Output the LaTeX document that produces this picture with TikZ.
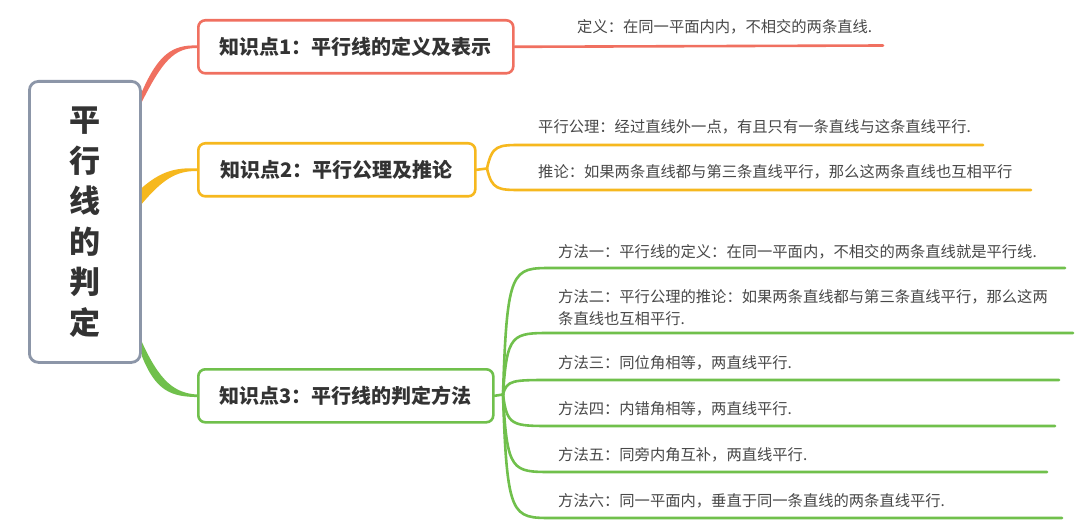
\documentclass[tikz,border=0pt]{standalone}
\usepackage{fontspec}
\setmainfont{Noto Sans CJK SC}
\usetikzlibrary{calc}
\definecolor{cred}{RGB}{240,112,96}
\definecolor{corange}{RGB}{246,184,30}
\definecolor{cgreen}{RGB}{112,192,76}
\definecolor{cgray}{RGB}{140,150,168}
\definecolor{ctext}{RGB}{51,51,51}
\definecolor{cdet}{RGB}{72,72,72}
\begin{document}
\begin{tikzpicture}[x=1pt,y=-1pt,
  kbox/.style={draw, line width=2.6pt, rounded corners=7pt, fill=white, text=ctext,
    font=\fontsize{20}{23}\selectfont\bfseries, inner sep=0pt, anchor=north west, minimum height=53pt},
  det/.style={anchor=west, text=cdet, font=\fontsize{15.3}{21.5}\selectfont, inner sep=0pt, align=left},
  br/.style={line width=2.6pt, line cap=round}
]
\useasboundingbox[fill=white] (0,0) rectangle (1080,532);

% root
\node[draw=cgray, line width=2.8pt, rounded corners=9pt, fill=white, anchor=north west,
  minimum width=111pt, minimum height=281pt, inner sep=0pt, text=ctext, align=center,
  font=\fontsize{31}{40.5}\selectfont\bfseries] (root) at (28,80) {平\\行\\线\\的\\判\\定};

% level-1 boxes
\node[kbox, draw=cred, minimum width=315pt] (b1) at (197,19) {知识点1：平行线的定义及表示};
\node[kbox, draw=corange, minimum width=277pt] (b2) at (197,142) {知识点2：平行公理及推论};
\node[kbox, draw=cgreen, minimum width=295pt] (b3) at (197,368) {知识点3：平行线的判定方法};

% root connectors (tapered)
\fill[cred] ($(root.north east)+(0,12)$) .. controls (158,55) and (172,44.5) .. ($(b1.west)+(0,-1.3)$)
  -- ($(b1.west)+(0,1.3)$) .. controls (174,47.5) and (162,62) .. ($(root.north east)+(0,22)$) -- cycle;
\fill[corange] ($(root.east)+(0,-34)$) .. controls (160,172) and (175,167.2) .. ($(b2.west)+(0,-1.3)$)
  -- ($(b2.west)+(0,1.3)$) .. controls (176,170.5) and (162,180) .. ($(root.east)+(0,-18)$) -- cycle;
\fill[cgreen] ($(root.south east)+(0,-22)$) .. controls (160,382) and (175,393.2) .. ($(b3.west)+(0,-1.3)$)
  -- ($(b3.west)+(0,1.3)$) .. controls (172,396.5) and (156,392) .. ($(root.south east)+(0,-8)$) -- cycle;

% knowledge point 1
\coordinate (e1) at (883,45.5);
\node[det] (d1) at (577,27) {定义：在同一平面内内，不相交的两条直线.};
\draw[br, cred] (b1.east) -- (e1);

% knowledge point 2
\coordinate (f2) at (487,168.5);
\coordinate (e21) at (983,145);
\coordinate (e22) at (1031,190);
\node[det] (d21) at (538,127) {平行公理：经过直线外一点，有且只有一条直线与这条直线平行.};
\node[det] (d22) at (538,172) {推论：如果两条直线都与第三条直线平行，那么这两条直线也互相平行};
\draw[br, corange] (b2.east) -- (f2);
\draw[br, corange] (f2) .. controls (492,145) and (498,145) .. (522,145) -- (e21);
\draw[br, corange] (f2) .. controls (492,190) and (498,190) .. (522,190) -- (e22);

% knowledge point 3
\coordinate (f3) at (503,394.5);
\draw[br, cgreen] (b3.east) -- (f3);
\foreach \yy/\xe/\nm in {268/1065/m1, 333/1073/m2, 380/1059/m3, 426/1055/m4, 472/1047/m5, 518/1062/m6}{
  \coordinate (\nm) at (\xe,\yy);
  \draw[br, cgreen] (f3) .. controls (507,\yy) and (512,\yy) .. (552,\yy) -- (\nm);
}
\node[det] (t1) at (558,252) {方法一：平行线的定义：在同一平面内，不相交的两条直线就是平行线.};
\node[det] (t2) at (558,307.5) {方法二：平行公理的推论：如果两条直线都与第三条直线平行，那么这两\\条直线也互相平行.};
\node[det] (t3) at (558,363) {方法三：同位角相等，两直线平行.};
\node[det] (t4) at (558,409) {方法四：内错角相等，两直线平行.};
\node[det] (t5) at (558,455) {方法五：同旁内角互补，两直线平行.};
\node[det] (t6) at (558,501) {方法六：同一平面内，垂直于同一条直线的两条直线平行.};
\end{tikzpicture}
\end{document}
